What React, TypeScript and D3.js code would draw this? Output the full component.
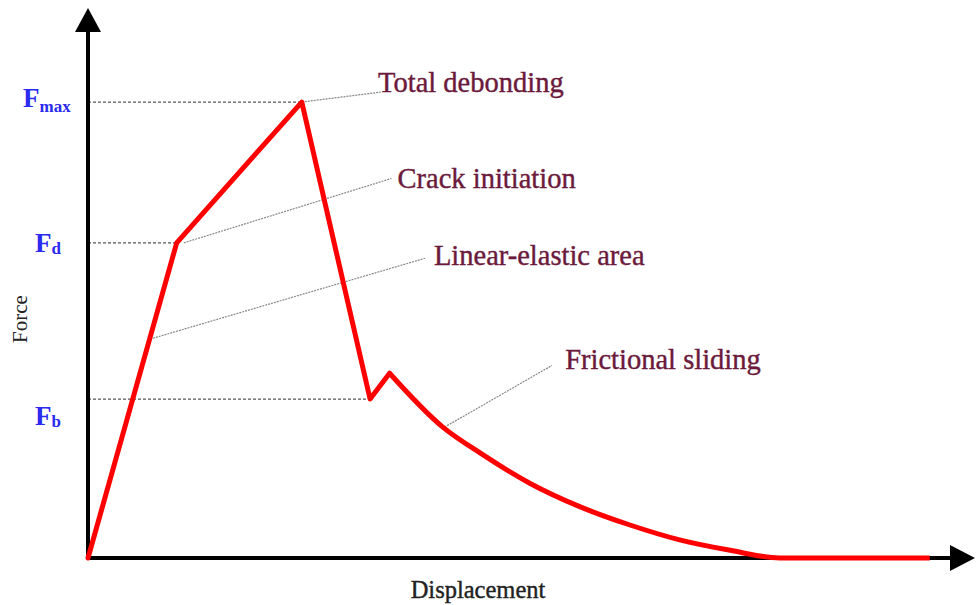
import React from "react";
import * as d3 from "d3";

// Curve: displacement (arbitrary units) vs force (arbitrary units)
const segmentX = [0, 1.0, 2.41, 3.18, 3.4];
const segmentY = [0, 5.73, 8.29, 2.89, 3.36];
const tailX = [3.4, 4.0, 4.42, 4.98, 5.55, 6.11, 6.67, 7.24, 7.8, 9.49];
const tailY = [3.36, 2.38, 1.91, 1.36, 0.93, 0.6, 0.33, 0.14, 0, 0];

const levelNames = ["max", "d", "b"];
const levelValues = [8.29, 5.73, 2.89];
const levelEndX = [2.41, 1.0, 3.18];

const annotationTexts = ["Total debonding", "Crack initiation", "Linear-elastic area", "Frictional sliding"];
const annotationFrom = [[2.41, 8.29], [1.08, 5.73], [0.7, 3.98], [4.02, 2.38]];
const annotationTo = [[3.3, 8.47], [3.42, 6.9], [3.8, 5.45], [5.23, 3.5]];
const annotationTextPos = [[3.27, 8.47], [3.49, 6.72], [3.9, 5.32], [5.38, 3.43]];

const W = 977;
const H = 605;

export default function App() {
  const x = d3.scaleLinear().domain([0, 10]).range([88, 975]);
  const y = d3.scaleLinear().domain([0, 10]).range([558, 8]);

  const segPts: [number, number][] = segmentX.map((v, i) => [x(v), y(segmentY[i])]);
  const tailPts: [number, number][] = tailX.map((v, i) => [x(v), y(tailY[i])]);
  const linePath = d3.line().curve(d3.curveLinear)(segPts) || "";
  const tailPath = d3.line().curve(d3.curveMonotoneX)(tailPts) || "";

  const x0 = x(0);
  const y0 = y(0);
  const serif = "'Liberation Serif', 'Times New Roman', serif";
  const blue = "#2a2af0";
  const maroon = "#6b1a3c";

  return (
    <svg width={W} height={H} style={{ position: "absolute", left: 0, top: 0, background: "#fff" }}>
      {/* dashed level lines */}
      {levelValues.map((v, i) => (
        <line key={"lv" + i} x1={x0} x2={x(levelEndX[i])} y1={y(v)} y2={y(v)}
          stroke="#555" strokeWidth={1.2} strokeDasharray="3,2" />
      ))}
      {/* leader lines */}
      {annotationFrom.map((p, i) => (
        <line key={"ld" + i} x1={x(p[0])} y1={y(p[1])} x2={x(annotationTo[i][0])} y2={y(annotationTo[i][1])}
          stroke="#888" strokeWidth={1.2} strokeDasharray="2,1" />
      ))}
      {/* axes */}
      <line x1={x0} y1={y0} x2={x0} y2={28} stroke="#000" strokeWidth={4} />
      <path d={`M${x0 - 13},${32} L${x0},${8} L${x0 + 13},${32} Z`} fill="#000" />
      <line x1={x0} y1={y0} x2={950} y2={y0} stroke="#000" strokeWidth={4} />
      <path d={`M${950},${y0 - 13} L${975},${y0} L${950},${y0 + 13} Z`} fill="#000" />
      {/* curve */}
      <path d={linePath} fill="none" stroke="#ff0000" strokeWidth={5} strokeLinejoin="round" strokeLinecap="round" />
      <path d={tailPath} fill="none" stroke="#ff0000" strokeWidth={5} strokeLinejoin="round" strokeLinecap="butt" />
      {/* level labels */}
      <text x={23} y={107} fontFamily={serif} fontSize={27} fontWeight="bold" fill={blue}>
        F<tspan fontSize={17} dy={5}>{levelNames[0]}</tspan>
      </text>
      <text x={35} y={y(levelValues[1]) + 9} fontFamily={serif} fontSize={27} fontWeight="bold" fill={blue}>
        F<tspan fontSize={17} dy={2}>{levelNames[1]}</tspan>
      </text>
      <text x={35} y={y(levelValues[2]) + 26} fontFamily={serif} fontSize={27} fontWeight="bold" fill={blue}>
        F<tspan fontSize={17} dy={2}>{levelNames[2]}</tspan>
      </text>
      {/* annotations */}
      {annotationTexts.map((t, i) => (
        <text key={"at" + i} x={x(annotationTextPos[i][0])} y={y(annotationTextPos[i][1])}
          fontFamily={serif} fontSize={28.5} fill={maroon} stroke={maroon} strokeWidth={0.4}>{t}</text>
      ))}
      {/* axis titles */}
      <text x={478} y={598} textAnchor="middle" fontFamily={serif} fontSize={24.5} fill="#222" stroke="#222" strokeWidth={0.4}>Displacement</text>
      <text transform={`translate(27,319) rotate(-90)`} textAnchor="middle" fontFamily={serif} fontSize={21} fill="#222">Force</text>
    </svg>
  );
}
